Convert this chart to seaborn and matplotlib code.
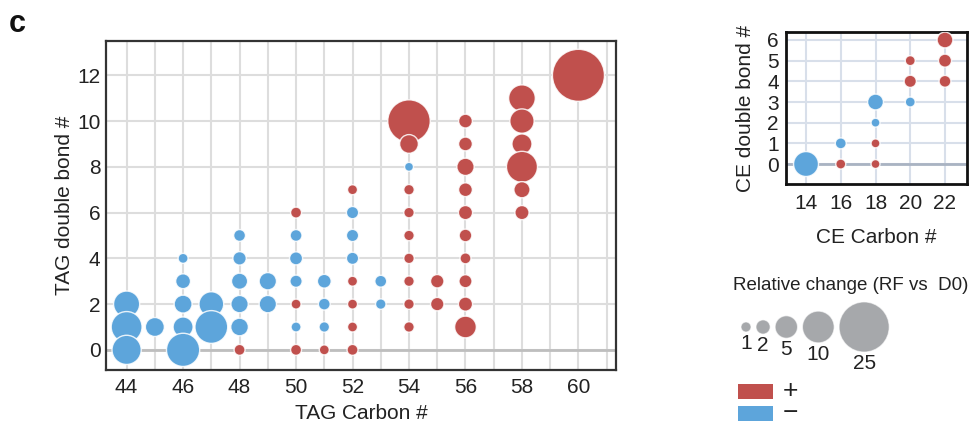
import numpy as np
import pandas as pd
import matplotlib
matplotlib.use("Agg")
import matplotlib.pyplot as plt
from matplotlib.patches import Rectangle
import seaborn as sns

# ---------------- data ----------------
# TAG species: carbon number, double bonds, relative change, direction
tag_carbon = ([44] * 3 + [45] + [46] * 5 + [47] * 2 + [48] * 6 + [49] * 2 +
              [50] * 7 + [51] * 4 + [52] * 8 + [53] * 2 + [54] * 10 +
              [55] * 2 + [56] * 10 + [58] * 6 + [60])
tag_db = ([0, 1, 2] + [1] + [0, 1, 2, 3, 4] + [1, 2] + [0, 1, 2, 3, 4, 5] + [2, 3] +
          [0, 1, 2, 3, 4, 5, 6] + [0, 1, 2, 3] + [0, 1, 2, 3, 4, 5, 6, 7] + [2, 3] +
          [1, 2, 3, 4, 5, 6, 7, 8, 9, 10] + [2, 3] +
          [1, 2, 3, 4, 5, 6, 7, 8, 9, 10] + [6, 7, 8, 9, 10, 11] + [12])
tag_change = ([8.5, 9.5, 6.8] + [3.6] + [11, 4.0, 3.2, 2.2, 1.0] + [10.7, 6.1] +
              [1.2, 3.1, 3.0, 2.6, 1.8, 1.4] + [3.0, 3.0] +
              [1.2, 1.0, 1.0, 1.5, 1.7, 1.4, 1.2] + [1.0, 1.1, 1.4, 1.9] +
              [1.2, 1.0, 1.0, 1.0, 1.5, 1.5, 1.5, 1.0] + [1.1, 1.4] +
              [1.1, 1.1, 1.1, 1.1, 1.1, 1.1, 1.1, 0.8, 3.5, 18] + [1.8, 1.8] +
              [4.7, 2.0, 1.7, 1.2, 1.6, 2.0, 1.9, 3.0, 1.9, 1.9] +
              [2.0, 2.6, 9.6, 4.0, 5.9, 7.1] + [27])
tag_sign = (list("---") + list("-") + list("-----") + list("--") + list("+-----") +
            list("--") + list("+-+---+") + list("+---") + list("++++---+") +
            list("--") + list("+++++++-++") + list("++") + list("++++++++++") +
            list("++++++") + list("+"))

# CE species
ce_carbon = [14, 16, 16, 18, 18, 18, 18, 20, 20, 20, 22, 22, 22]
ce_db = [0, 0, 1, 0, 1, 2, 3, 3, 4, 5, 4, 5, 6]
ce_change = [6.2, 1.0, 1.2, 0.8, 0.8, 0.8, 2.5, 1.0, 1.5, 1.0, 1.4, 1.7, 2.5]
ce_sign = ["-", "+", "-", "+", "+", "-", "-", "-", "+", "+", "+", "+", "+"]

legend_values = [1, 2, 5, 10, 25]
legend_labels = ["1", "2", "5", "10", "25"]
sign_labels = ["+", "\u2212"]

tag_xticks = list(range(44, 61, 2))
tag_yticks = list(range(0, 13, 2))
ce_xticks = list(range(14, 23, 2))
ce_yticks = list(range(0, 7))

# ---------------- style ----------------
sns.set_style("white")
plt.rcParams["font.family"] = ["Liberation Sans", "DejaVu Sans"]

RED = "#C0504D"
BLUE = "#5DA5DB"
GRAY = "#A6A8AB"
pal = {"+": RED, "-": BLUE}
K = 52.0  # points^2 per unit of relative change
SIZES = (0, K * 30)
NORM = (0, 30)
TXT = "#222222"

fig = plt.figure(figsize=(9.71, 4.29), dpi=100)

# ---------------- TAG panel ----------------
ax = fig.add_axes([106 / 971, 1 - 370 / 429, 510 / 971, 329 / 429])
tag = pd.DataFrame(dict(carbon=tag_carbon, db=tag_db, change=tag_change, sign=tag_sign))
tag = tag.sort_values("db", ascending=False, kind="stable")
sns.scatterplot(data=tag, x="carbon", y="db", hue="sign", size="change",
                palette=pal, sizes=SIZES, size_norm=NORM,
                edgecolor=(1, 1, 1, 0.85), linewidth=1.0, legend=False, ax=ax, zorder=3)
ax.set_xlim(43.27, 61.33)
ax.set_ylim(-0.88, 13.5)
ax.set_xticks(tag_xticks)
ax.set_xticks(list(range(44, 62)), minor=True)
ax.set_yticks(tag_yticks)
ax.set_axisbelow(True)
ax.grid(which="both", axis="x", color="#DDDDDD", lw=1.5)
ax.grid(which="major", axis="y", color="#DDDDDD", lw=1.5)
ax.axhline(0, color="#BEBEBE", lw=2, zorder=1.5)
ax.tick_params(which="both", length=0)
ax.tick_params(axis="x", labelsize=15, pad=6, colors=TXT)
ax.tick_params(axis="y", labelsize=15, pad=4, colors=TXT)
ax.set_xlabel("TAG Carbon #", fontsize=15, color=TXT, labelpad=5)
ax.set_ylabel("TAG double bond #", fontsize=15, color=TXT, labelpad=2)
for s in ax.spines.values():
    s.set_color("#333333")
    s.set_linewidth(1.6)
    s.set_visible(True)

# ---------------- CE panel ----------------
ax2 = fig.add_axes([785.7 / 971, 1 - 184.3 / 429, 181 / 971, 152.6 / 429])
ce = pd.DataFrame(dict(carbon=ce_carbon, db=ce_db, change=ce_change, sign=ce_sign))
ce = ce.sort_values("db", ascending=False, kind="stable")
sns.scatterplot(data=ce, x="carbon", y="db", hue="sign", size="change",
                palette=pal, sizes=SIZES, size_norm=NORM,
                edgecolor=(1, 1, 1, 0.85), linewidth=1.0, legend=False, ax=ax2, zorder=3)
ax2.set_xlim(12.83, 23.25)
ax2.set_ylim(-0.98, 6.4)
ax2.set_xticks(ce_xticks)
ax2.set_yticks(ce_yticks)
ax2.set_axisbelow(True)
ax2.grid(True, color="#D8DFEA", lw=1.5)
ax2.axhline(0, color="#A9B3C2", lw=2, zorder=1.5)
ax2.tick_params(length=0)
ax2.tick_params(axis="x", labelsize=15, pad=7, colors=TXT)
ax2.tick_params(axis="y", labelsize=15, pad=5, colors=TXT)
ax2.set_xlabel("CE Carbon #", fontsize=15, color=TXT, labelpad=11)
ax2.set_ylabel("CE double bond #", fontsize=15, color=TXT, labelpad=9)
for s in ax2.spines.values():
    s.set_color("#111111")
    s.set_linewidth(2.0)
    s.set_visible(True)

# ---------------- legend ----------------
lax = fig.add_axes([720 / 971, 0, 251 / 971, 159 / 429])
lax.set_xlim(720, 971)
lax.set_ylim(429, 270)
lax.axis("off")

radii = [10 * np.sqrt(v) / 2 for v in legend_values]  # px
xs = [746.0]
for i in range(1, len(radii)):
    xs.append(xs[-1] + radii[i - 1] + 5 + radii[i])
cy = 327
leg = pd.DataFrame(dict(x=xs, y=[cy] * len(xs), change=legend_values))
sns.scatterplot(data=leg, x="x", y="y", size="change", sizes=SIZES, size_norm=NORM,
                color=GRAY, edgecolor=(1, 1, 1, 0.6), linewidth=0.8,
                legend=False, ax=lax, clip_on=False)
lax.set_xlim(720, 971)
lax.set_ylim(429, 270)
for x, r, lab in zip(xs, radii, legend_labels):
    lax.text(x, cy + r + 2, lab, ha="center", va="top", fontsize=15, color=TXT)
lax.text(733, 286, "Relative change (RF vs  D0)", ha="left", va="center",
         fontsize=13.5, color=TXT)
for yy, col, lab in zip([384, 406], [RED, BLUE], sign_labels):
    lax.add_patch(Rectangle((738, yy), 35, 15, facecolor=col, edgecolor="none"))
    lax.text(790, yy + 7.5, lab, ha="center", va="center", fontsize=19, color=TXT)

fig.text(9 / 971, 1 - 32 / 429, "c", fontsize=22, fontweight="bold",
         va="baseline", ha="left", color="#111111")

fig.savefig("out.png", dpi=100)
